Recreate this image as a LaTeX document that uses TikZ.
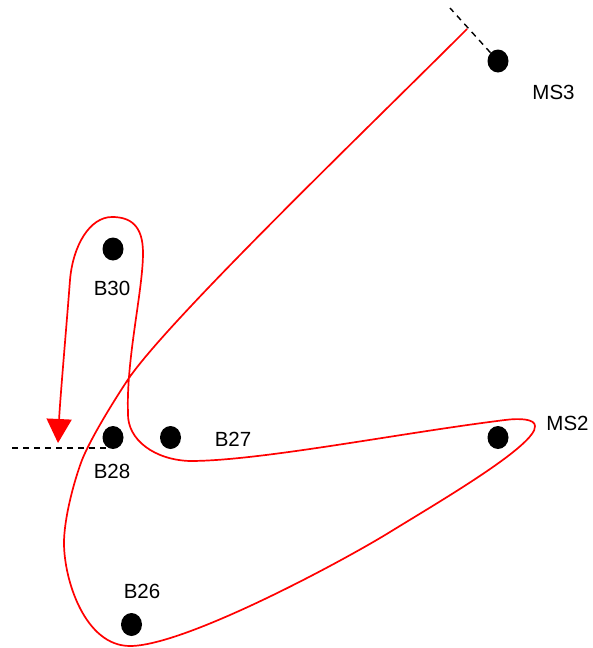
\documentclass[tikz,border=0pt]{standalone}
\usepackage{fontspec}
\setmainfont{Liberation Sans}
\usetikzlibrary{shapes.geometric,arrows.meta}
\begin{document}
\begin{tikzpicture}[x=1pt,y=-1pt,
  dotnode/.style={ellipse,fill=black,inner sep=0pt,minimum width=21pt,minimum height=23pt},
  lbl/.style={inner sep=0pt,anchor=center,font=\fontsize{20.5}{24}\selectfont},
  route/.style={red,line width=1.7pt,line join=round},
  guide/.style={black,line width=1.4pt,dash pattern=on 6pt off 5pt}]
\useasboundingbox (0,0) rectangle (593,648);
% stations
\node[dotnode] (MS3) at (498,61) {};
\node[dotnode] (B30) at (113,249) {};
\node[dotnode] (B28) at (113,437.5) {};
\node[dotnode] (B27) at (170.5,437.5) {};
\node[dotnode] (MS2) at (498,437.5) {};
\node[dotnode] (B26) at (131.5,624.5) {};
% labels
\node[lbl] (lMS3) at (553.5,92.5) {MS3};
\node[lbl] (lB30) at (112,288) {B30};
\node[lbl] (lB28) at (112,471.5) {B28};
\node[lbl] (lB27) at (233,439.5) {B27};
\node[lbl] (lMS2) at (567.5,423.5) {MS2};
\node[lbl] (lB26) at (142,591.5) {B26};
% dashed guides
\coordinate (t1) at (450,8);
\coordinate (t2) at (12,448);
\coordinate (t3) at (106,448);
\draw[guide] (MS3) -- (t1);
\draw[guide] (t3) -- (t2);
% red route
\coordinate (r0) at (467,29);
\coordinate (r9) at (58,443);
\draw[route,-{Triangle[width=25pt,length=24pt]}]
  (r0)
  .. controls (368,128) and (165,323) .. (127,381)
  .. controls (110.5,406) and (90,440) .. (82,460)
  .. controls (73,484) and (64,520) .. (64,543)
  .. controls (64,580) and (85,646) .. (130,646)
  .. controls (185,646) and (343,561) .. (390,532)
  .. controls (437,503) and (537,445) .. (535,426)
  .. controls (535,419) and (520,418) .. (505,420)
  .. controls (400,433) and (260,461) .. (190,461)
  .. controls (155,460) and (127,440) .. (128,413)
  .. controls (126,360) and (143,290) .. (143,253)
  .. controls (143,225) and (130,217) .. (112,217)
  .. controls (90,217) and (73,245) .. (70,280)
  .. controls (67,320) and (60,400) .. (r9);
\end{tikzpicture}
\end{document}
